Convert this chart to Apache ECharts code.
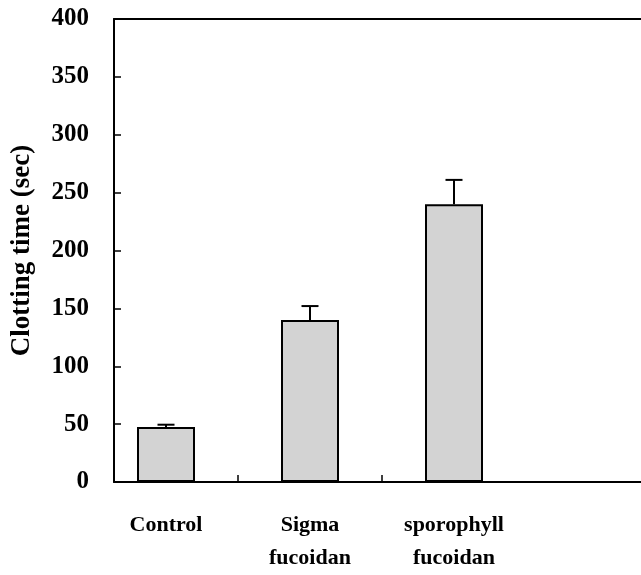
<!DOCTYPE html>
<html>
<head>
<meta charset="utf-8">
<script src="https://cdn.jsdelivr.net/npm/echarts@6/dist/echarts.min.js"></script>
<style>
html,body{margin:0;padding:0;background:#fff;}
#chart{width:641px;height:575px;}
</style>
</head>
<body>
<div id="chart"></div>
<script>
const categories = ["Control", "Sigma\nfucoidan", "sporophyll\nfucoidan"];
const values = [47.5, 140, 240];
const errors = [2, 12, 21];
const yTicks = [0, 50, 100, 150, 200, 250, 300, 350, 400];
const yTitle = "Clotting time (sec)";

const font = "'Liberation Serif', 'Times New Roman', serif";
const chart = echarts.init(document.getElementById('chart'), null, {renderer: 'canvas'});

const barData = values.map((v, i) => [i, v]);
const errData = values.map((v, i) => [i, v + errors[i]]);

const xMin = -52 / 144;
const xMax = (641 - 166) / 144;

chart.setOption({
  animation: false,
  backgroundColor: '#fff',
  grid: {left: 114, top: 19, bottom: 91, right: 0},
  xAxis: [{
    type: 'value',
    min: xMin,
    max: xMax,
    splitLine: {show: false},
    axisLine: {show: true, onZero: false, lineStyle: {color: '#000', width: 2}},
    axisTick: {show: true, inside: true, length: 7, lineStyle: {color: '#000', width: 1.5}, customValues: [0.5, 1.5]},
    axisLabel: {
      show: true,
      customValues: [0, 1, 2],
      formatter: v => categories[Math.round(v)] || '',
      fontFamily: font, fontWeight: 'bold', fontSize: 22, color: '#000',
      lineHeight: 33, margin: 27
    }
  }, {
    type: 'value',
    position: 'top',
    min: xMin,
    max: xMax,
    splitLine: {show: false},
    axisLine: {show: true, onZero: false, lineStyle: {color: '#000', width: 2}},
    axisTick: {show: false},
    axisLabel: {show: false}
  }],
  yAxis: {
    type: 'value',
    min: 0, max: 400, interval: 50,
    splitLine: {show: false},
    axisLine: {show: true, onZero: false, lineStyle: {color: '#000', width: 2}},
    axisTick: {show: true, inside: true, length: 7, lineStyle: {color: '#000', width: 1.5}},
    axisLabel: {
      fontFamily: font, fontWeight: 'bold', fontSize: 25, color: '#000', margin: 25,
      formatter: v => yTicks.includes(v) ? String(v) : ''
    },
    name: yTitle,
    nameLocation: 'middle',
    nameRotate: 90,
    nameGap: 78,
    nameTextStyle: {fontFamily: font, fontWeight: 'bold', fontSize: 27, color: '#000'}
  },
  series: [
    {
      type: 'bar',
      xAxisIndex: 0,
      data: barData,
      barWidth: 58,
      itemStyle: {color: '#d3d3d3', borderColor: '#000', borderWidth: 2}
    },
    {
      type: 'custom',
      xAxisIndex: 0,
      data: errData,
      z: 5,
      renderItem: function (params, api) {
        const i = params.dataIndex;
        const top = api.coord([i, values[i] + errors[i]]);
        const base = api.coord([i, values[i]]);
        const half = 8.5;
        return {
          type: 'group',
          children: [
            {type: 'line', shape: {x1: top[0], y1: base[1], x2: top[0], y2: top[1]}, style: {stroke: '#000', lineWidth: 2}},
            {type: 'line', shape: {x1: top[0] - half, y1: top[1], x2: top[0] + half, y2: top[1]}, style: {stroke: '#000', lineWidth: 2}}
          ]
        };
      }
    }
  ]
});
</script>
</body>
</html>
